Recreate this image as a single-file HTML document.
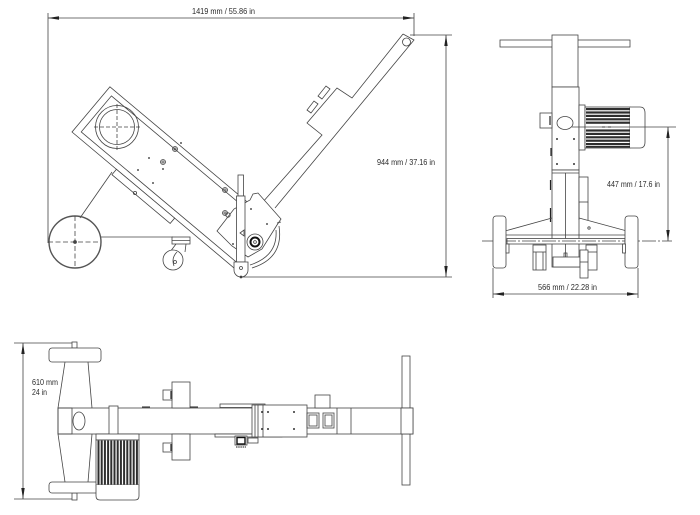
<!DOCTYPE html>
<html><head><meta charset="utf-8"><style>
html,body{margin:0;padding:0;background:#fff;}
svg{display:block;}
text{font-family:"Liberation Sans",sans-serif;font-size:8px;fill:#2a2a2a;}
</style></head><body>
<svg width="700" height="515" viewBox="0 0 700 515" xmlns="http://www.w3.org/2000/svg">
<rect width="700" height="515" fill="#fff"/>
<g stroke="#444" stroke-width="0.8" fill="none">

<!-- ============ SIDE VIEW ============ -->
<!-- dimensions -->
<line x1="48" y1="18" x2="414" y2="18"/>
<line x1="48" y1="13" x2="48" y2="243"/>
<line x1="414" y1="13" x2="414" y2="36"/>
<line x1="410" y1="35" x2="452" y2="35"/>
<line x1="240" y1="277" x2="452" y2="277"/>
<line x1="446" y1="35" x2="446" y2="277"/>

<!-- handle -->
<path d="M403,34 L414,40 L275,208 M403,34 L352,98 L337,88 L307,123 L322,135 L262,203" fill="#fff"/>
<circle cx="406.5" cy="42" r="4"/>
<path d="M322,99 L318,96 L326,86 L330,89 Z"/>
<path d="M311,113 L307,110 L314,101 L318,104 Z"/>

<!-- frame -->
<g transform="translate(72,132) rotate(40)">
  <rect x="0" y="-59" width="212" height="59" fill="#fff"/>
  <path d="M212,-53 L7,-53 L7,-6 L212,-6"/>
  <rect x="58" y="0" width="76" height="7" fill="#fff"/>
</g>
<!-- big circle on frame -->
<circle cx="117" cy="127" r="21.5"/>
<circle cx="117" cy="127" r="17.5"/>
<line x1="94" y1="127" x2="140" y2="127" stroke-dasharray="4 2"/>
<line x1="117" y1="104" x2="117" y2="150" stroke-dasharray="4 2"/>
<!-- frame holes -->
<circle cx="175" cy="149" r="2.5"/><circle cx="175" cy="149" r="1.1"/>
<circle cx="163" cy="162" r="2.5"/><circle cx="163" cy="162" r="1.1"/>
<circle cx="225" cy="190" r="2.5"/><circle cx="225" cy="190" r="1.1"/>
<circle cx="225" cy="213" r="2.5"/><circle cx="225" cy="213" r="1.1"/>
<circle cx="135" cy="193" r="1.6"/>
<g fill="#555" stroke="none">
<circle cx="181" cy="143" r="1"/><circle cx="149" cy="158" r="1"/><circle cx="138" cy="170" r="1"/>
<circle cx="163" cy="169" r="1"/><circle cx="153" cy="183" r="1"/>
</g>

<!-- strut, wheel, caster -->
<line x1="112" y1="172" x2="80" y2="218"/>
<line x1="101" y1="237" x2="173" y2="237"/>
<circle cx="75" cy="242" r="26" stroke="#555" stroke-width="1.4"/>
<line x1="48" y1="242" x2="101" y2="242" stroke-dasharray="5 2.5"/>
<line x1="75" y1="216" x2="75" y2="268" stroke-dasharray="5 2.5"/>
<circle cx="75" cy="242" r="1.5" fill="#444"/>
<rect x="172" y="237" width="18" height="7" fill="#fff"/>
<line x1="172" y1="240.5" x2="190" y2="240.5"/>
<path d="M186,244 L185,252 M176,244 L170,252"/>
<circle cx="173" cy="260" r="10" fill="#fff"/>
<path d="M177,252 Q171,258 174,266"/>
<circle cx="175" cy="262" r="1.5"/>

<!-- gearbox plate -->
<path d="M217,231 L234,209 L250,200 L253,194 L258,193 L281,219 L277,225 L262,249 L248,257 L232,246 Z" fill="#fff"/>
<circle cx="251" cy="209" r="1" fill="#555" stroke="none"/>
<circle cx="267" cy="224" r="1" fill="#555" stroke="none"/>
<circle cx="233" cy="244" r="1" fill="#555" stroke="none"/>
<circle cx="228" cy="215" r="2.2"/>
<!-- guard arcs -->
<path d="M279,226 Q284,258 252,268"/>
<path d="M276,230 Q278,256 250,265"/>
<path d="M277,223 L281,222"/>
<!-- hub -->
<circle cx="255" cy="242" r="8" fill="#fff"/>
<circle cx="255" cy="242" r="4.5" stroke="#111" stroke-width="2"/>
<circle cx="255" cy="242" r="1.4"/>
<!-- post -->
<rect x="238" y="175" width="5.5" height="21" fill="#fff"/>
<rect x="236.5" y="196" width="8.5" height="66" fill="#fff"/>
<path d="M240,233 L244,230 L244,236 Z" fill="#fff"/>
<path d="M234,262 L234,270 A7,7 0 0 0 248,270 L248,262 Z" fill="#fff"/>
<circle cx="241" cy="268" r="1.5"/>
<circle cx="241" cy="277" r="1" fill="#333"/>

<!-- ============ FRONT VIEW ============ -->
<rect x="500" y="40" width="130" height="7" fill="#fff"/>
<rect x="552" y="35" width="26" height="52" fill="#fff"/>
<rect x="552" y="87" width="27" height="83" fill="#fff"/>
<rect x="540" y="113" width="12" height="15" fill="#fff"/>
<line x1="550" y1="116" x2="550" y2="125" stroke="#222" stroke-width="1.2"/>
<line x1="551" y1="148" x2="551" y2="156" stroke="#222" stroke-width="1.2"/>
<rect x="579" y="105" width="6" height="45" fill="#fff"/>
<rect x="585" y="107" width="45" height="41" fill="#fff"/>
<path d="M630,107 L640,107 Q645,107 645,113 L645,142 Q645,148 640,148 L630,148" fill="#fff"/>
<ellipse cx="565" cy="123" rx="8" ry="6.5" fill="#fff"/>
<g fill="#333" stroke="none">
<circle cx="557" cy="139" r="1"/><circle cx="574" cy="139" r="1"/>
<circle cx="557" cy="164" r="1"/><circle cx="574" cy="164" r="1"/>
</g>
<!-- 447 dimension -->
<line x1="572" y1="127" x2="676" y2="127"/>
<line x1="668" y1="127" x2="668" y2="241"/>
<!-- lower column -->
<rect x="552" y="170" width="27" height="97" fill="#fff"/>
<line x1="552" y1="173" x2="579" y2="173"/>
<line x1="565.5" y1="173" x2="565.5" y2="257"/>
<rect x="579" y="177" width="9" height="25" fill="#fff"/>
<line x1="579" y1="202" x2="579" y2="220"/>
<line x1="588" y1="202" x2="588" y2="220"/>
<line x1="550.5" y1="180" x2="550.5" y2="190" stroke="#222" stroke-width="1.2"/>
<line x1="550.5" y1="208" x2="550.5" y2="222" stroke="#222" stroke-width="1.2"/>
<!-- arms -->
<path d="M552,218 L505,231 L505,238.5 M579,218 L627,231 L627,238.5"/>
<line x1="506" y1="235" x2="626" y2="235"/>
<rect x="507" y="238.5" width="118" height="5.5" fill="#fff"/>
<line x1="482" y1="241" x2="672" y2="241" stroke-dasharray="14 2 2 2"/>
<circle cx="589" cy="228" r="1.2"/>
<!-- wheels -->
<rect x="493" y="216" width="13" height="52" rx="3" fill="#fff"/>
<rect x="625" y="216" width="13" height="52" rx="3" fill="#fff"/>
<rect x="506" y="244" width="3" height="9" fill="#fff"/>
<rect x="622.5" y="244" width="3" height="9" fill="#fff"/>
<!-- casters -->
<rect x="533" y="245" width="13" height="25" fill="#fff"/>
<line x1="536" y1="252" x2="536" y2="270"/><line x1="543" y1="252" x2="543" y2="270"/>
<line x1="533" y1="252" x2="546" y2="252"/>
<rect x="586" y="245" width="11" height="25" fill="#fff"/>
<line x1="586" y1="252" x2="597" y2="252"/>
<rect x="553" y="257" width="27" height="10" fill="#fff"/>
<path d="M564,257 L564,253 L567,253 L567,257"/>
<rect x="580" y="250" width="8" height="28" fill="#fff"/>
<line x1="580" y1="262" x2="588" y2="262"/>
<!-- 566 dimension -->
<line x1="493" y1="294" x2="638" y2="294"/>
<line x1="493" y1="268" x2="493" y2="298"/>
<line x1="638" y1="268" x2="638" y2="298"/>

<!-- ============ BOTTOM (TOP-DOWN) VIEW ============ -->
<line x1="23" y1="343" x2="23" y2="499"/>
<line x1="14" y1="343" x2="77" y2="343"/>
<line x1="14" y1="499" x2="77" y2="499"/>
<rect x="72" y="342" width="5" height="6" fill="#fff"/>
<rect x="72" y="493" width="5" height="7" fill="#fff"/>
<rect x="49" y="348" width="52" height="14" rx="3" fill="#fff"/>
<rect x="49" y="482" width="52" height="11" rx="3" fill="#fff"/>
<path d="M65,362 L58,408 M88,362 L92,408 M58,434 L65,482 M92,434 L88,482"/>
<!-- handle crossbar -->
<rect x="402" y="356" width="8" height="129" fill="#fff"/>
<!-- beam -->
<rect x="58" y="408" width="355" height="26" fill="#fff"/>
<rect x="401" y="408" width="12" height="26" fill="#fff"/>
<rect x="58" y="408" width="14" height="26"/>
<ellipse cx="79" cy="421" rx="6" ry="9"/>
<rect x="109" y="406" width="9" height="30" fill="#fff"/>
<!-- motor -->
<rect x="96" y="434" width="43" height="6" fill="#fff"/>
<rect x="96" y="440" width="43" height="45" fill="#fff"/>
<path d="M96,485 L96,496 Q96,500 100,500 L135,500 Q139,500 139,496 L139,485" fill="#fff"/>
<!-- clamp blocks -->
<rect x="172" y="382" width="18" height="26" fill="#fff"/>
<rect x="163" y="390" width="9" height="10" fill="#fff"/>
<rect x="172" y="434" width="18" height="26" fill="#fff"/>
<rect x="163" y="443" width="9" height="9" fill="#fff"/>
<line x1="171" y1="391" x2="171" y2="399" stroke="#222" stroke-width="1.2"/>
<line x1="171" y1="444" x2="171" y2="451" stroke="#222" stroke-width="1.2"/>
<!-- strips -->
<rect x="220" y="404" width="45" height="3.5" fill="#fff"/>
<rect x="215" y="434" width="67" height="3" fill="#fff"/>
<line x1="142" y1="407" x2="150" y2="407" stroke="#222" stroke-width="1"/>
<line x1="190" y1="407" x2="198" y2="407" stroke="#222" stroke-width="1"/>
<!-- plate -->
<rect x="252" y="405" width="55" height="32" fill="#fff"/>
<line x1="255" y1="405" x2="255" y2="437"/>
<line x1="258" y1="405" x2="258" y2="437"/>
<line x1="263" y1="405" x2="263" y2="437"/>
<g fill="#333" stroke="none">
<circle cx="262" cy="412" r="1"/><circle cx="268" cy="412" r="1"/><circle cx="294" cy="412" r="1"/>
<circle cx="262" cy="429" r="1"/><circle cx="268" cy="429" r="1"/><circle cx="294" cy="429" r="1"/>
</g>
<!-- component below -->
<rect x="235" y="436" width="12" height="9" fill="#fff"/>
<rect x="237" y="437.5" width="8" height="6.5" stroke="#111" stroke-width="1.4"/>
<rect x="248" y="438" width="10" height="5" fill="#fff"/>
<line x1="236" y1="447" x2="246" y2="447" stroke="#666" stroke-width="1.5" stroke-dasharray="1.5 0.7"/>
<!-- windows -->
<rect x="307" y="413" width="12" height="15"/>
<rect x="309" y="415" width="8" height="11"/>
<rect x="323" y="413" width="11" height="15"/>
<rect x="325" y="415" width="7" height="11"/>
<rect x="315" y="395" width="15" height="13" fill="#fff"/>
<line x1="337" y1="408" x2="337" y2="434"/>
<line x1="351" y1="408" x2="351" y2="434"/>
</g>

<!-- motor fins front view -->
<g fill="#2e2e2e">
<rect x="586" y="108" width="44" height="2.2"/>
<rect x="586" y="111.4" width="44" height="2.2"/>
<rect x="586" y="114.8" width="44" height="2.2"/>
<rect x="586" y="118.2" width="44" height="2.2"/>
<rect x="586" y="121.6" width="44" height="2.2"/>
<rect x="586" y="129.4" width="44" height="2.2"/>
<rect x="586" y="132.8" width="44" height="2.2"/>
<rect x="586" y="136.2" width="44" height="2.2"/>
<rect x="586" y="139.6" width="44" height="2.2"/>
<rect x="586" y="143" width="44" height="2.2"/>
<rect x="586" y="146" width="44" height="1.6"/>
<rect x="602" y="126.5" width="3" height="1"/>
<rect x="608" y="126.5" width="3" height="1"/>
</g>
<!-- motor fins bottom view -->
<g fill="#2e2e2e">
<rect x="97.5" y="440.5" width="2" height="44"/>
<rect x="100.7" y="440.5" width="2" height="44"/>
<rect x="103.9" y="440.5" width="2" height="44"/>
<rect x="107.1" y="440.5" width="2" height="44"/>
<rect x="110.3" y="440.5" width="2" height="44"/>
<rect x="113.5" y="440.5" width="2" height="44"/>
<rect x="116.7" y="440.5" width="2" height="44"/>
<rect x="119.9" y="440.5" width="2" height="44"/>
<rect x="123.1" y="440.5" width="2" height="44"/>
<rect x="126.3" y="440.5" width="2" height="44"/>
<rect x="129.5" y="440.5" width="2" height="44"/>
<rect x="132.7" y="440.5" width="2" height="44"/>
<rect x="135.9" y="440.5" width="2" height="44"/>
</g>

<!-- arrowheads -->
<g fill="#222">
<polygon points="48,18 59,16.3 59,19.7"/>
<polygon points="414,18 403,16.3 403,19.7"/>
<polygon points="446,35 444.3,46 447.7,46"/>
<polygon points="446,277 444.3,266 447.7,266"/>
<polygon points="668,127 666.3,138 669.7,138"/>
<polygon points="668,241 666.3,230 669.7,230"/>
<polygon points="493,294 504,292.3 504,295.7"/>
<polygon points="638,294 627,292.3 627,295.7"/>
<polygon points="23,343 21.3,354 24.7,354"/>
<polygon points="23,499 21.3,488 24.7,488"/>
</g>

<!-- labels -->
<text x="192" y="14" textLength="63" lengthAdjust="spacingAndGlyphs">1419 mm / 55.86 in</text>
<text x="377" y="165" textLength="58" lengthAdjust="spacingAndGlyphs">944 mm / 37.16 in</text>
<text x="607" y="187" textLength="53" lengthAdjust="spacingAndGlyphs">447 mm / 17.6 in</text>
<text x="538" y="290" textLength="59" lengthAdjust="spacingAndGlyphs">566 mm / 22.28 in</text>
<text x="32" y="385" textLength="26" lengthAdjust="spacingAndGlyphs">610 mm</text>
<text x="32" y="395" textLength="15" lengthAdjust="spacingAndGlyphs">24 in</text>
</svg>
</body></html>
